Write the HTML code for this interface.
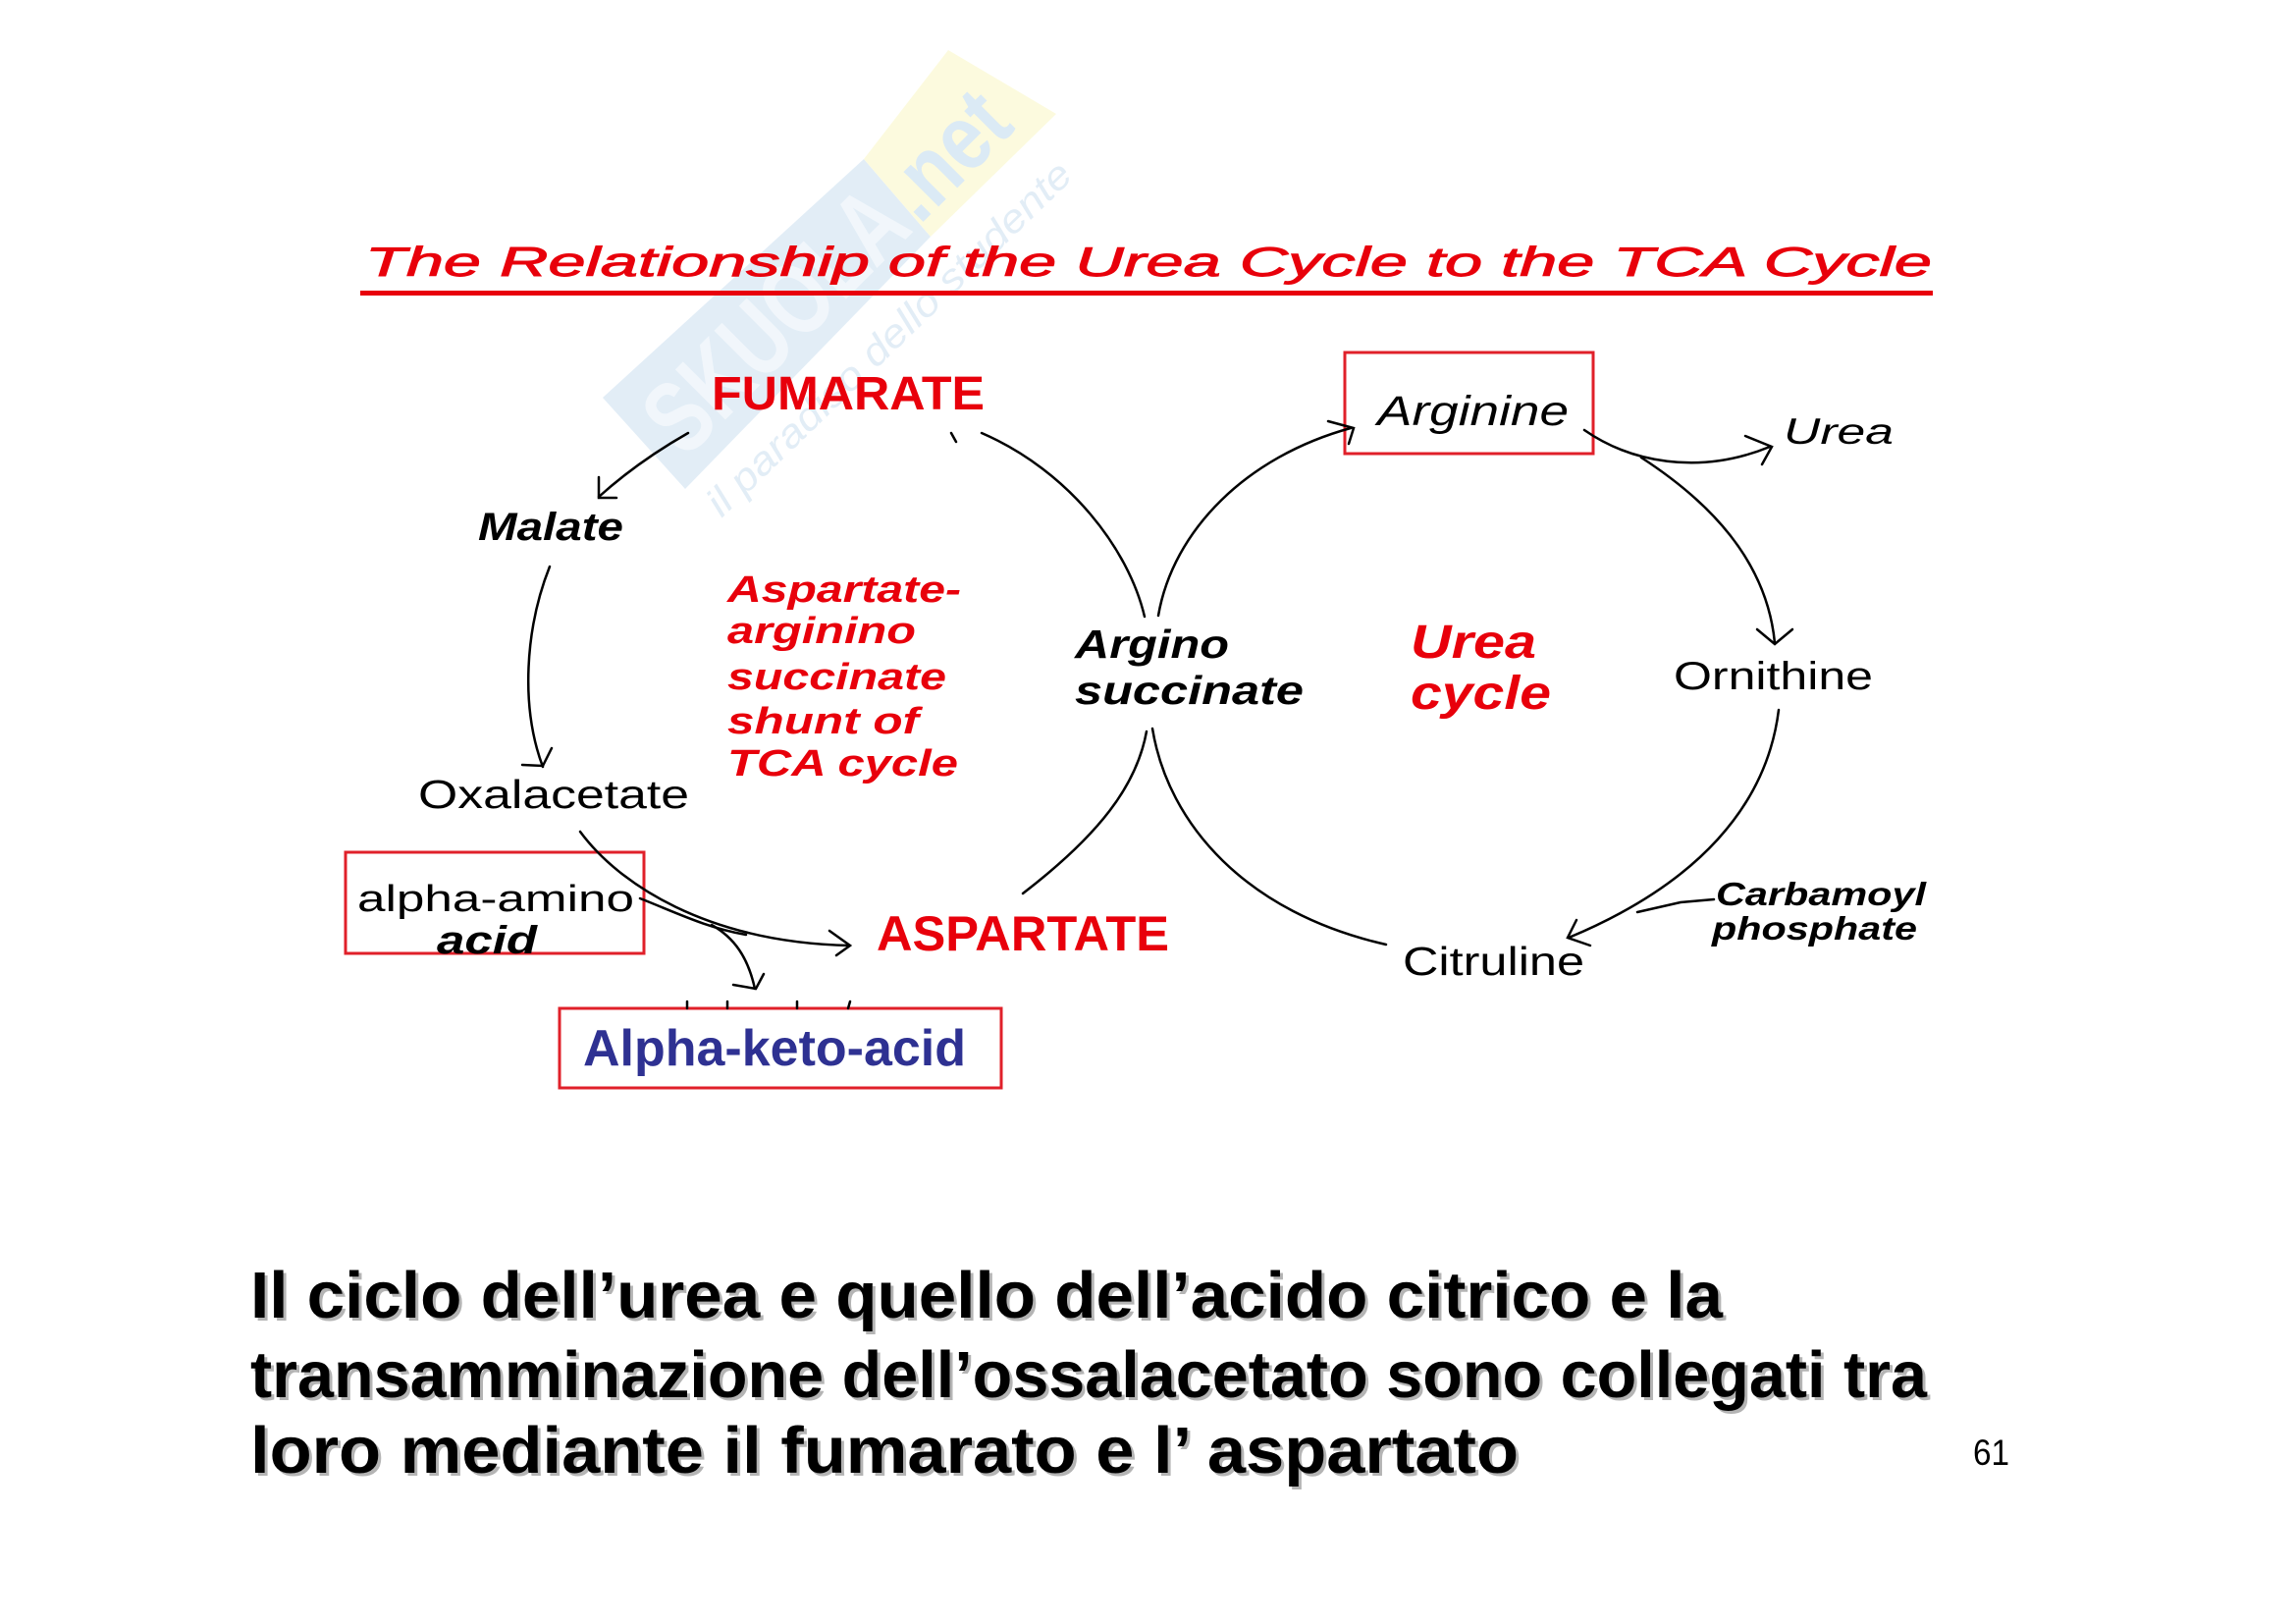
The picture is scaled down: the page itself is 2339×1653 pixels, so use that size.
<!DOCTYPE html>
<html>
<head>
<meta charset="utf-8">
<style>
html,body{margin:0;padding:0;background:#fff;}
svg{display:block;}
text{font-family:"Liberation Sans",Arial,sans-serif;}
</style>
</head>
<body>
<svg width="2339" height="1653" viewBox="0 0 2339 1653" xmlns="http://www.w3.org/2000/svg">
<rect x="0" y="0" width="2339" height="1653" fill="#ffffff"/>

<!-- watermark -->
<g opacity="0.8">
<polygon points="614,405 880,162 948,241 698,498" fill="#dbe9f5"/>
<polygon points="880,162 966,51 1076,116 948,241" fill="#fcfad6"/>
<g transform="translate(656,451) rotate(-45)">
  <text x="18" y="42" font-size="105" font-weight="bold" fill="#eef5fb" textLength="330" lengthAdjust="spacingAndGlyphs">SKUOLA</text>
  <text x="355" y="42" font-size="95" font-weight="bold" fill="#d3e5f3" textLength="140" lengthAdjust="spacingAndGlyphs">.net</text>
</g>
<g transform="translate(735,528) rotate(-44)">
  <text x="0" y="0" font-size="40" font-style="italic" fill="#dce9f4" textLength="500" lengthAdjust="spacingAndGlyphs">il paradiso dello studente</text>
</g>
</g>

<!-- title -->
<text x="372" y="281" font-size="42" font-style="italic" fill="#e8000b" stroke="#e8000b" stroke-width="0.9" textLength="1596" lengthAdjust="spacingAndGlyphs">The Relationship of the Urea Cycle to the TCA Cycle</text>
<rect x="367" y="296" width="1602" height="5" fill="#e8000b"/>

<!-- boxes -->
<rect x="1370" y="359" width="253" height="103" fill="none" stroke="#e0202a" stroke-width="3"/>
<rect x="352" y="868" width="304" height="103" fill="none" stroke="#e0202a" stroke-width="3"/>
<rect x="570" y="1027" width="450" height="81" fill="none" stroke="#e0202a" stroke-width="3"/>

<!-- connectors -->
<g fill="none" stroke="#000" stroke-width="2.5" stroke-linecap="round" stroke-linejoin="miter">
  <path d="M701,441 Q650,470 610,506"/>
  <path d="M610,486 L610,507 L628,507"/>
  <path d="M969,441 L974,450"/>
  <path d="M1000,441 C1090,480 1150,560 1166,628"/>
  <path d="M1180,627 C1195,540 1270,465 1376,436"/>
  <path d="M1353,429 L1379,436 L1374,452"/>
  <path d="M1168,745 C1158,800 1120,850 1042,910"/>
  <path d="M1174,742 C1190,840 1270,930 1412,962"/>
  <path d="M560,577 C535,640 530,720 553,781"/>
  <path d="M532,779 L553,780 L562,762"/>
  <path d="M591,847 C630,900 720,960 866,963"/>
  <path d="M845,948 L866,963 L852,973"/>
  <path d="M652,915 C690,930 720,945 760,952"/>
  <path d="M725,942 C748,955 762,975 769,1007"/>
  <path d="M747,1003 L770,1007 L778,992"/>
  <path d="M700,1020 L700,1027 M741,1020 L741,1027 M812,1020 L812,1027 M866,1020 L864,1027"/>
  <path d="M1614,438 C1660,470 1730,485 1803,455"/>
  <path d="M1778,444 L1805,455 L1795,473"/>
  <path d="M1672,466 C1740,510 1800,570 1808,655"/>
  <path d="M1790,641 L1808,656 L1826,641"/>
  <path d="M1812,723 C1800,820 1730,900 1598,955"/>
  <path d="M1606,937 L1597,955 L1620,963"/>
  <path d="M1746,916 L1712,919 L1668,929"/>
</g>

<!-- labels -->
<text x="725" y="417" font-size="48" font-weight="bold" fill="#e8000b" textLength="278" lengthAdjust="spacingAndGlyphs">FUMARATE</text>
<text x="487" y="550" font-size="40" font-weight="bold" font-style="italic" fill="#000" textLength="148" lengthAdjust="spacingAndGlyphs">Malate</text>
<text x="426" y="823" font-size="41" fill="#000" textLength="276" lengthAdjust="spacingAndGlyphs">Oxalacetate</text>

<g font-size="38" font-weight="bold" font-style="italic" fill="#e8000b">
  <text x="741" y="613" textLength="238" lengthAdjust="spacingAndGlyphs">Aspartate-</text>
  <text x="741" y="655" textLength="192" lengthAdjust="spacingAndGlyphs">arginino</text>
  <text x="741" y="702" textLength="223" lengthAdjust="spacingAndGlyphs">succinate</text>
  <text x="741" y="747" textLength="195" lengthAdjust="spacingAndGlyphs">shunt of</text>
  <text x="741" y="790" textLength="235" lengthAdjust="spacingAndGlyphs">TCA cycle</text>
</g>

<text x="1095" y="670" font-size="41" font-weight="bold" font-style="italic" fill="#000" textLength="157" lengthAdjust="spacingAndGlyphs">Argino</text>
<text x="1095" y="717" font-size="41" font-weight="bold" font-style="italic" fill="#000" textLength="233" lengthAdjust="spacingAndGlyphs">succinate</text>

<text x="1437" y="670" font-size="48" font-weight="bold" font-style="italic" fill="#e8000b" textLength="128" lengthAdjust="spacingAndGlyphs">Urea</text>
<text x="1437" y="722" font-size="48" font-weight="bold" font-style="italic" fill="#e8000b" textLength="143" lengthAdjust="spacingAndGlyphs">cycle</text>

<text x="1403" y="433" font-size="43" font-style="italic" fill="#000" textLength="195" lengthAdjust="spacingAndGlyphs">Arginine</text>
<text x="1817" y="452" font-size="37" font-style="italic" fill="#000" textLength="112" lengthAdjust="spacingAndGlyphs">Urea</text>
<text x="1705" y="702" font-size="40" fill="#000" textLength="203" lengthAdjust="spacingAndGlyphs">Ornithine</text>
<text x="1748" y="922" font-size="33" font-weight="bold" font-style="italic" fill="#000" textLength="214" lengthAdjust="spacingAndGlyphs">Carbamoyl</text>
<text x="1744" y="957" font-size="33" font-weight="bold" font-style="italic" fill="#000" textLength="209" lengthAdjust="spacingAndGlyphs">phosphate</text>
<text x="1429" y="993" font-size="41" fill="#000" textLength="185" lengthAdjust="spacingAndGlyphs">Citruline</text>

<text x="893" y="968" font-size="50" font-weight="bold" fill="#e8000b" textLength="298" lengthAdjust="spacingAndGlyphs">ASPARTATE</text>
<text x="364" y="928" font-size="38" fill="#000" textLength="282" lengthAdjust="spacingAndGlyphs">alpha-amino</text>
<text x="445" y="971" font-size="40" font-weight="bold" font-style="italic" fill="#000" textLength="102" lengthAdjust="spacingAndGlyphs">acid</text>
<text x="594" y="1085" font-size="52" font-weight="bold" fill="#2e3192" textLength="390" lengthAdjust="spacingAndGlyphs">Alpha-keto-acid</text>

<!-- bottom caption with shadow -->
<g font-size="67" font-weight="bold" fill="#b4b4b4">
  <text x="258" y="1345" textLength="1500" lengthAdjust="spacingAndGlyphs">Il ciclo dell’urea e quello dell’acido citrico e la</text>
  <text x="258" y="1426" textLength="1708" lengthAdjust="spacingAndGlyphs">transamminazione dell’ossalacetato sono collegati tra</text>
  <text x="258" y="1503" textLength="1292" lengthAdjust="spacingAndGlyphs">loro mediante il fumarato e l’ aspartato</text>
</g>
<g font-size="67" font-weight="bold" fill="#000">
  <text x="255" y="1342" textLength="1500" lengthAdjust="spacingAndGlyphs">Il ciclo dell’urea e quello dell’acido citrico e la</text>
  <text x="255" y="1423" textLength="1708" lengthAdjust="spacingAndGlyphs">transamminazione dell’ossalacetato sono collegati tra</text>
  <text x="255" y="1500" textLength="1292" lengthAdjust="spacingAndGlyphs">loro mediante il fumarato e l’ aspartato</text>
</g>

<text x="2010" y="1492" font-size="37" fill="#000" textLength="37" lengthAdjust="spacingAndGlyphs">61</text>
</svg>
</body>
</html>
